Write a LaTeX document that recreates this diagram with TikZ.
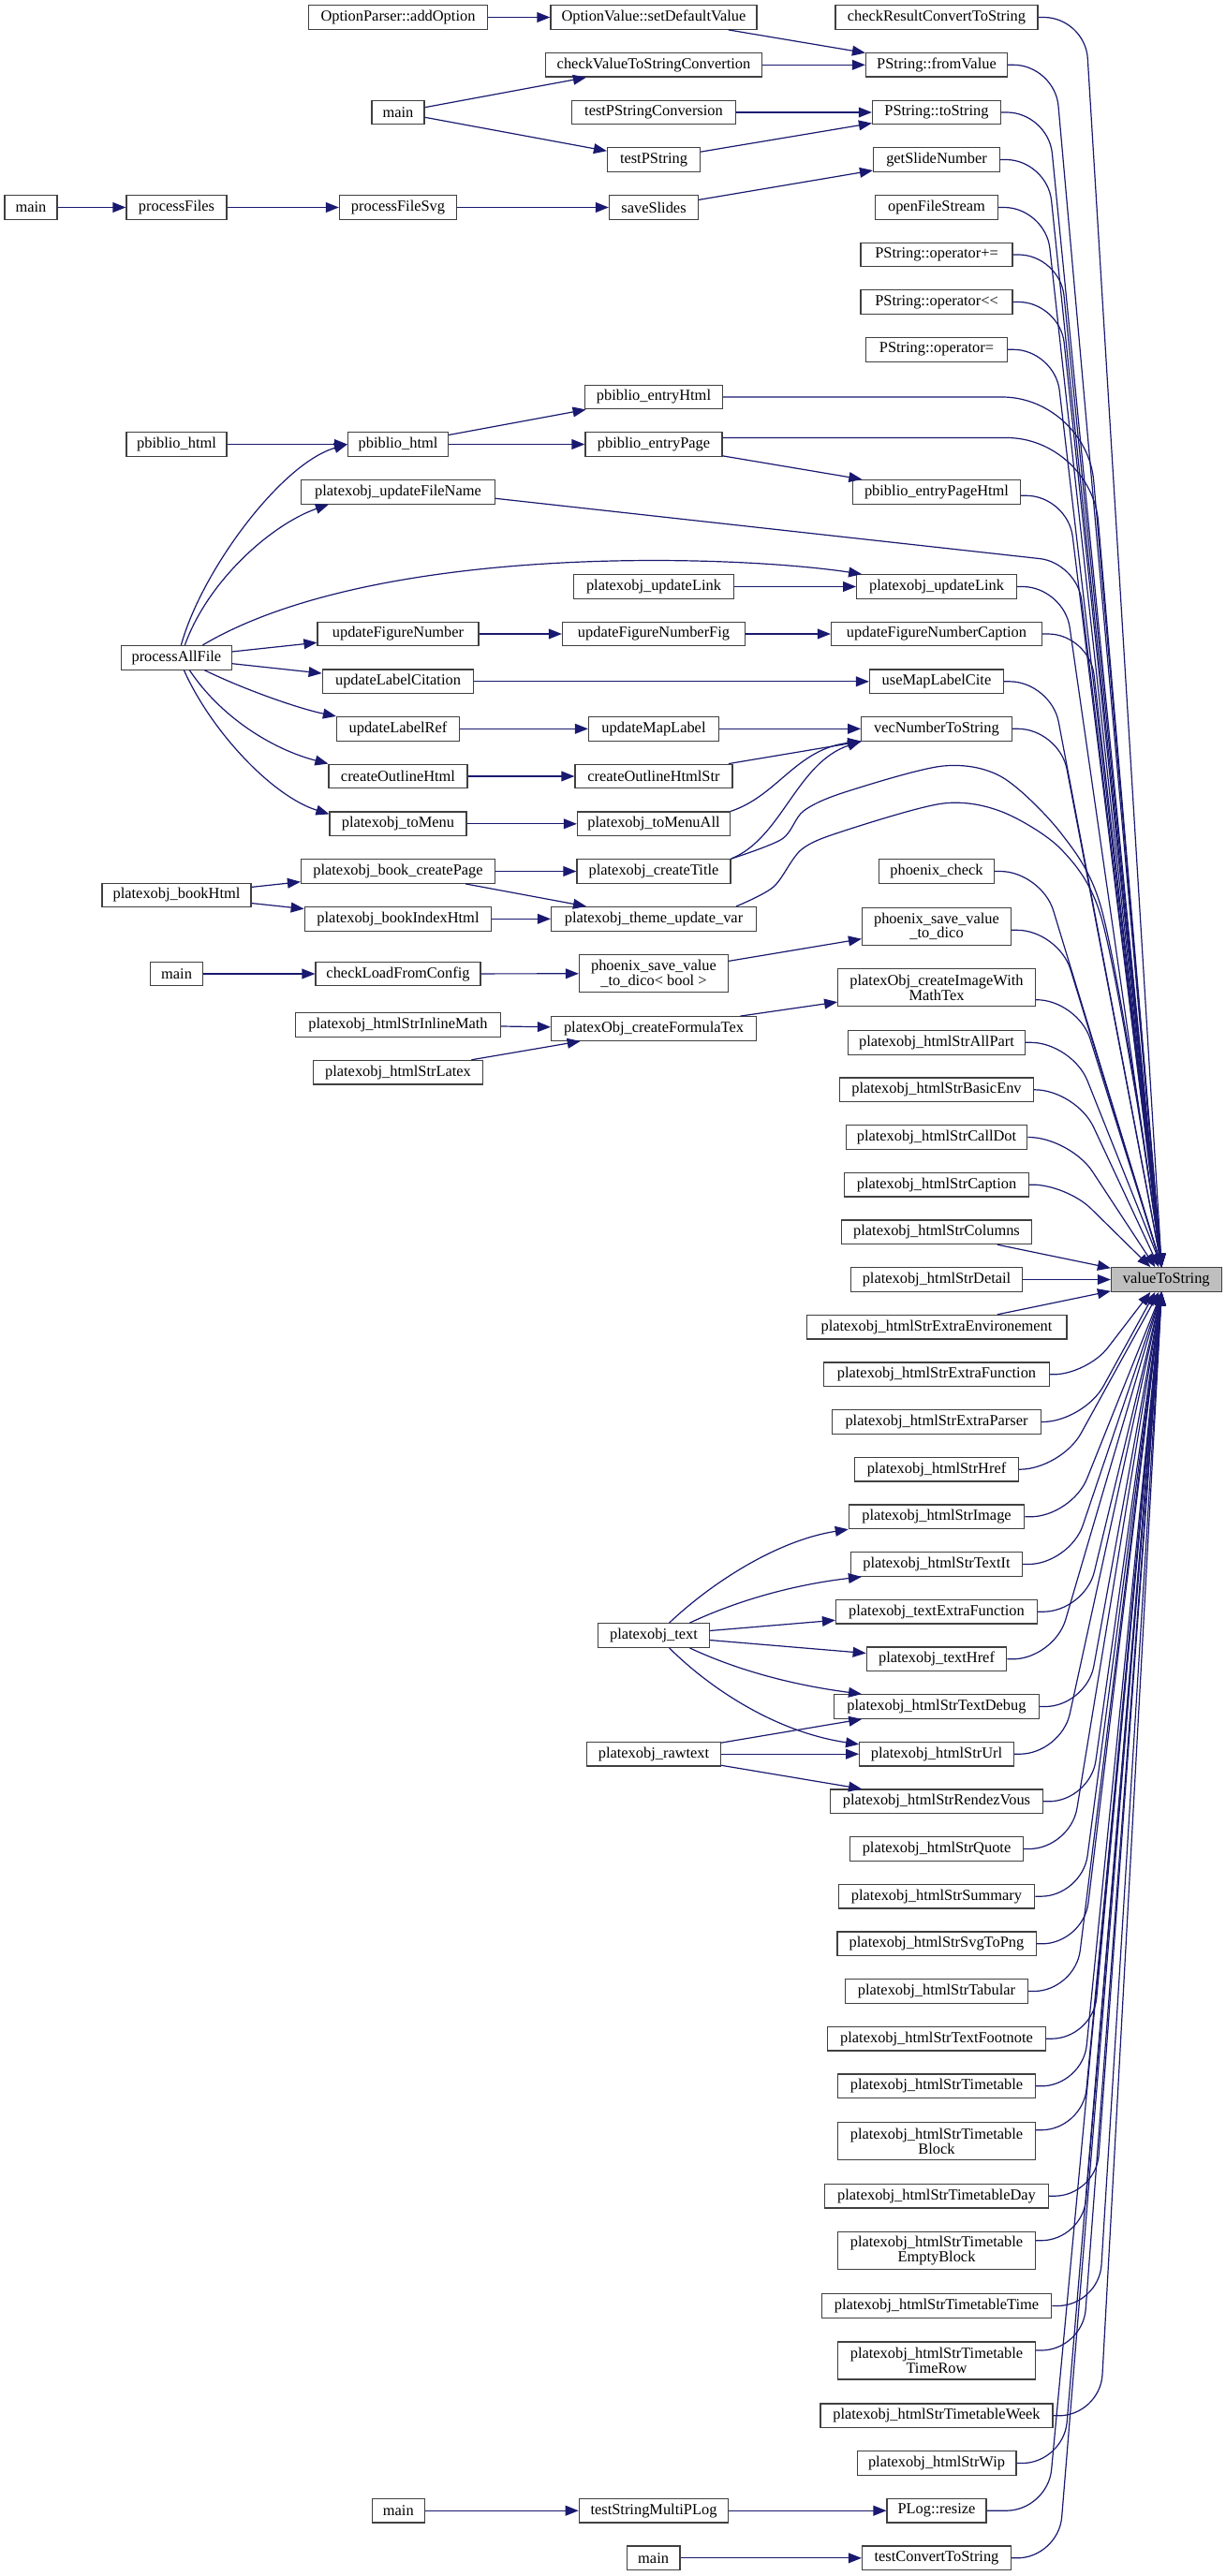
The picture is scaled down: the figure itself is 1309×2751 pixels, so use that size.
\documentclass[tikz,border=0pt]{standalone}
\usepackage{fontspec}
\setmainfont{Liberation Serif}
\usetikzlibrary{arrows.meta,calc}
\definecolor{edgec}{HTML}{191970}
\definecolor{nodeb}{HTML}{404040}
\definecolor{vfill}{HTML}{BFBFBF}
\newcommand\fnfont{\fontsize{8.2pt}{7.7pt}\selectfont}
\tikzset{
  fn/.style={draw=nodeb, fill=white, line width=0.6pt, rectangle, inner xsep=0pt, inner ysep=0pt, minimum height=12.8pt, font=\fnfont},
  fnii/.style={fn, minimum height=20pt, align=center},
  bw/.style={minimum width=#1*0.5pt},
  e/.style={draw=edgec, line width=0.6pt, -{Triangle[length=7pt,width=5.4pt]}},
  fan/.style={e, rounded corners=22pt},
}
\begin{document}
\begin{tikzpicture}[x=0.5pt,y=-0.5pt]
\fill[white] (0,0) rectangle (1309,2751);
% ---------- column A
\node[fn,bw=56] (mainA) at (33,221.5) {main};
% ---------- column B
\node[fn,bw=107] (pFiles) at (188.5,221.5) {processFiles};
\node[fn,bw=107] (pbhL) at (188.5,474.5) {pbiblio\_html};
\node[fn,bw=117.4] (pAll) at (188.4,702.3) {processAllFile};
\node[fn,bw=159] (bookHtml) at (188.5,956) {platexobj\_bookHtml};
\node[fn,bw=56] (mainB) at (188.6,1040) {main};
% ---------- column C
\node[fn,bw=191] (addOpt) at (425,18.5) {OptionParser::addOption};
\node[fn,bw=56] (mainC) at (425,120) {main};
\node[fn,bw=125] (pSvg) at (425,221.5) {processFileSvg};
\node[fn,bw=107] (pbhM) at (425,474.5) {pbiblio\_html};
\node[fn,bw=207] (updFN) at (425,525.3) {platexobj\_updateFileName};
\node[fn,bw=172] (updFig) at (425,677) {updateFigureNumber};
\node[fn,bw=161.6] (updCit) at (425,727.8) {updateLabelCitation};
\node[fn,bw=131] (updRef) at (425,778.3) {updateLabelRef};
\node[fn,bw=148] (coHtml) at (425,829) {createOutlineHtml};
\node[fn,bw=146] (toMenu) at (425,879.8) {platexobj\_toMenu};
\node[fn,bw=207] (bookCP) at (425,930.5) {platexobj\_book\_createPage};
\node[fn,bw=199.5] (bookIdx) at (425,981.3) {platexobj\_bookIndexHtml};
\node[fn,bw=176] (chkLoad) at (425,1040) {checkLoadFromConfig};
\node[fn,bw=219] (inlMath) at (425,1094.3) {platexobj\_htmlStrInlineMath};
\node[fn,bw=181.4] (strLatex) at (425,1145.2) {platexobj\_htmlStrLatex};
\node[fn,bw=56] (mainC2) at (425.3,2681.2) {main};
% ---------- column D
\node[fn,bw=220] (setDef) at (698,18.5) {OptionValue::setDefaultValue};
\node[fn,bw=231] (chkVal) at (698,69.3) {checkValueToStringConvertion};
\node[fn,bw=175] (tPSC) at (698,120) {testPStringConversion};
\node[fn,bw=99] (tPS) at (698,170.5) {testPString};
\node[fn,bw=95] (saveSl) at (698,221.5) {saveSlides};
\node[fn,bw=147] (entHtml) at (698,424) {pbiblio\_entryHtml};
\node[fn,bw=146] (entPage) at (698,474.5) {pbiblio\_entryPage};
\node[fn,bw=171] (updLinkL) at (698,626.5) {platexobj\_updateLink};
\node[fn,bw=195] (updFigFig) at (698,677) {updateFigureNumberFig};
\node[fn,bw=139] (updMap) at (698,778.3) {updateMapLabel};
\node[fn,bw=168] (coStr) at (698,829) {createOutlineHtmlStr};
\node[fn,bw=163] (toMenuAll) at (698,879.8) {platexobj\_toMenuAll};
\node[fn,bw=164] (crTitle) at (698,930.5) {platexobj\_createTitle};
\node[fn,bw=219] (theme) at (698,981.3) {platexobj\_theme\_update\_var};
\node[fnii,bw=159] (psvBool) at (698,1039.7) {phoenix\_save\_value\\\_to\_dico< bool >};
\node[fn,bw=219] (crFormula) at (698,1098.5) {platexObj\_createFormulaTex};
\node[fn,bw=118.6] (ptext) at (698,1746.5) {platexobj\_text};
\node[fn,bw=142.3] (praw) at (698,1873.2) {platexobj\_rawtext};
\node[fn,bw=159.4] (tSMP) at (698,2681.2) {testStringMultiPLog};
\node[fn,bw=56.7] (mainD) at (697.6,2731.8) {main};
% ---------- column E
\node[fn,bw=216] (chkRes) at (1000,18.5) {checkResultConvertToString};
\node[fn,bw=151] (fromVal) at (1000,69.3) {PString::fromValue};
\node[fn,bw=137] (toStr) at (1000,120) {PString::toString};
\node[fn,bw=135] (getSlide) at (1000,170.5) {getSlideNumber};
\node[fn,bw=131] (openFS) at (1000,221.5) {openFileStream};
\node[fn,bw=162] (opPlus) at (1000,272) {PString::operator+=};
\node[fn,bw=162] (opShl) at (1000,322.5) {PString::operator<{}<};
\node[fn,bw=151] (opEq) at (1000,373.3) {PString::operator=};
\node[fn,bw=178.6] (entPageHtml) at (1000,525.3) {pbiblio\_entryPageHtml};
\node[fn,bw=170.6] (updLinkR) at (1000,626.5) {platexobj\_updateLink};
\node[fn,bw=225] (updFigCap) at (1000,677) {updateFigureNumberCaption};
\node[fn,bw=143] (useMap) at (1000,727.8) {useMapLabelCite};
\node[fn,bw=160.6] (vecNum) at (1000,778.3) {vecNumberToString};
\node[fn,bw=122.7] (phCheck) at (1000,930.5) {phoenix\_check};
\node[fnii,bw=159] (psv) at (1000,989.3) {phoenix\_save\_value\\\_to\_dico};
\node[fnii,bw=210.6] (crImg) at (1000,1054.7) {platexObj\_createImageWith\\MathTex};
\node[fn,bw=188.3] (allPart) at (1000,1113.3) {platexobj\_htmlStrAllPart};
\node[fn,bw=206.8] (basicEnv) at (1000,1163.8) {platexobj\_htmlStrBasicEnv};
\node[fn,bw=193.6] (callDot) at (1000,1214.5) {platexobj\_htmlStrCallDot};
\node[fn,bw=196.5] (caption) at (1000,1265.2) {platexobj\_htmlStrCaption};
\node[fn,bw=202.3] (columns) at (1000,1315.8) {platexobj\_htmlStrColumns};
\node[fn,bw=182.5] (detail) at (1000,1366.5) {platexobj\_htmlStrDetail};
\node[fn,bw=277.8] (extraEnv) at (1000,1417.2) {platexobj\_htmlStrExtraEnvironement};
\node[fn,bw=240.6] (extraFn) at (1000,1467.8) {platexobj\_htmlStrExtraFunction};
\node[fn,bw=223] (extraPar) at (1000,1518.5) {platexobj\_htmlStrExtraParser};
\node[fn,bw=174.7] (href) at (1000,1569.2) {platexobj\_htmlStrHref};
\node[fn,bw=187.3] (image) at (1000,1619.8) {platexobj\_htmlStrImage};
\node[fn,bw=183] (textIt) at (1000,1670.5) {platexobj\_htmlStrTextIt};
\node[fn,bw=215] (textExtra) at (1000,1721.2) {platexobj\_textExtraFunction};
\node[fn,bw=149.6] (textHref) at (1000,1771.8) {platexobj\_textHref};
\node[fn,bw=218.8] (textDebug) at (1000,1822.5) {platexobj\_htmlStrTextDebug};
\node[fn,bw=164.6] (url) at (1000,1873.2) {platexobj\_htmlStrUrl};
\node[fn,bw=226.5] (rdv) at (1000,1923.8) {platexobj\_htmlStrRendezVous};
\node[fn,bw=184.4] (quote) at (1000,1974.5) {platexobj\_htmlStrQuote};
\node[fn,bw=209.6] (summary) at (1000,2025.2) {platexobj\_htmlStrSummary};
\node[fn,bw=212.2] (svg) at (1000,2075.8) {platexobj\_htmlStrSvgToPng};
\node[fn,bw=194.6] (tabular) at (1000,2126.5) {platexobj\_htmlStrTabular};
\node[fn,bw=232.4] (footnote) at (1000,2177.2) {platexobj\_htmlStrTextFootnote};
\node[fn,bw=210.6] (ttable) at (1000,2227.8) {platexobj\_htmlStrTimetable};
\node[fnii,bw=210.6] (ttBlock) at (1000,2286.7) {platexobj\_htmlStrTimetable\\Block};
\node[fn,bw=238.7] (ttDay) at (1000,2345.2) {platexobj\_htmlStrTimetableDay};
\node[fnii,bw=210.6] (ttEmpty) at (1000,2403.7) {platexobj\_htmlStrTimetable\\EmptyBlock};
\node[fn,bw=245.4] (ttTime) at (1000,2462.5) {platexobj\_htmlStrTimetableTime};
\node[fnii,bw=210.6] (ttRow) at (1000,2521) {platexobj\_htmlStrTimetable\\TimeRow};
\node[fn,bw=248] (ttWeek) at (1000,2579.8) {platexobj\_htmlStrTimetableWeek};
\node[fn,bw=169.8] (wip) at (1000,2630.5) {platexobj\_htmlStrWip};
\node[fn,bw=105.9] (resize) at (1000,2681.2) {PLog::resize};
\node[fn,bw=159] (tCTS) at (1000,2731.8) {testConvertToString};
% ---------- column F
\node[fn,bw=117.7,fill=vfill] (v) at (1245.3,1366.5) {valueToString};

% ---------- straight edges
\draw[e] (addOpt) -- (setDef);
\draw[e] (setDef) -- (fromVal);
\draw[e] (chkVal) -- (fromVal);
\draw[e] (mainC) -- (chkVal);
\draw[e] (mainC) -- (tPS);
\draw[e] (tPSC) -- (toStr);
\draw[e] (tPS) -- (toStr);
\draw[e] (mainA) -- (pFiles);
\draw[e] (pFiles) -- (pSvg);
\draw[e] (pSvg) -- (saveSl);
\draw[e] (saveSl) -- (getSlide);
\draw[e] (pbhL) -- (pbhM);
\draw[e] (pbhM) -- (entHtml);
\draw[e] (pbhM) -- (entPage);
\draw[e] (entPage) -- (entPageHtml);
\draw[e] (updLinkL) -- (updLinkR);
\draw[e] (pAll) -- (updFig);
\draw[e] (pAll) -- (updCit);
\draw[e] (updFig) -- (updFigFig);
\draw[e] (updFigFig) -- (updFigCap);
\draw[e] (updCit) -- (useMap);
\draw[e] (updRef) -- (updMap);
\draw[e] (updMap) -- (vecNum);
\draw[e] (coHtml) -- (coStr);
\draw[e] (coStr) -- (vecNum);
\draw[e] (toMenu) -- (toMenuAll);
\draw[e] (bookCP) -- (crTitle);
\draw[e] (bookCP) -- (theme);
\draw[e] (bookHtml) -- (bookCP);
\draw[e] (bookHtml) -- (bookIdx);
\draw[e] (bookIdx) -- (theme);
\draw[e] (mainB) -- (chkLoad);
\draw[e] (chkLoad) -- (psvBool);
\draw[e] (psvBool) -- (psv);
\draw[e] (inlMath) -- (crFormula);
\draw[e] (strLatex) -- (crFormula);
\draw[e] (crFormula) -- (crImg);
\draw[e] (ptext) -- (textExtra);
\draw[e] (ptext) -- (textHref);
\draw[e] (praw) -- (textDebug);
\draw[e] (praw) -- (url);
\draw[e] (praw) -- (rdv);
\draw[e] (mainC2) -- (tSMP);
\draw[e] (tSMP) -- (resize);
\draw[e] (mainD) -- (tCTS);
\draw[e] (columns) -- (v);
\draw[e] (detail) -- (v);
\draw[e] (extraEnv) -- (v);

% ---------- curved edges, left part
\draw[e] ([xshift=2.5pt]pAll.north) .. controls (215,610) and (300,495) .. (pbhM.west);
\draw[e] ([xshift=4.5pt]pAll.north) .. controls (222,620) and (290,560) .. ([xshift=15pt]updFN.south west);
\draw[e] ([xshift=14pt]pAll.north) .. controls (400,580) and (780,592) .. ([xshift=3pt]updLinkR.north west);
\draw[e] ([xshift=15pt]pAll.south) .. controls (262,737) and (320,757) .. (updRef.north west);
\draw[e] ([xshift=7pt]pAll.south) .. controls (235,765) and (290,800) .. (coHtml.north west);
\draw[e] ([xshift=4pt]pAll.south) .. controls (225,780) and (290,850) .. ([yshift=-1.5pt]toMenu.north west);
\draw[e] (toMenuAll.north east) .. controls (830,850) and (850,800) .. (vecNum.south west);
\draw[e] (crTitle.north east) .. controls (835,895) and (850,815) .. (vecNum.south west);
\draw[e] ([xshift=8.3pt]ptext.north) .. controls (760,1690) and (830,1645) .. (image.south west);
\draw[e] ([xshift=19.2pt]ptext.north) .. controls (790,1708) and (850,1692) .. ([xshift=6pt]textIt.south west);
\draw[e] ([xshift=19.2pt]ptext.south) .. controls (790,1785) and (850,1800) .. ([xshift=15pt]textDebug.north west);
\draw[e] ([xshift=8.3pt]ptext.south) .. controls (760,1805) and (830,1850) .. ([yshift=-1.5pt]url.north west);

% ---------- fan-in to valueToString, from above
\foreach \n in {chkRes,fromVal,toStr,getSlide,openFS,opPlus,opShl,opEq,updLinkR,updFigCap,useMap,vecNum,phCheck,allPart}
  \draw[fan] (\n.east) -- ++(50,0) -- ([xshift=-2.5pt]v.north);
\draw[fan] ($(entPageHtml.east)+(0,4)$) -- ++(50,0) -- ([xshift=-2.5pt]v.north);
\draw[fan] ($(psv.east)+(0,4)$) -- ++(50,0) -- ([xshift=-2.5pt]v.north);
\draw[fan] ($(crImg.east)+(0,13)$) -- ++(45,0) -- ([xshift=-2.5pt]v.north);
\draw[fan] (basicEnv.east) -- ++(45,0) -- ([xshift=-4pt]v.north);
\draw[fan] (callDot.east) -- ++(45,0) -- ([xshift=-6pt]v.north);
\draw[fan, rounded corners=18pt] (caption.east) -- ++(40,0) -- ([xshift=-8.5pt]v.north);
\draw[e, rounded corners=45pt] (entHtml.east) -- (1160,424) -- ([xshift=-2.5pt]v.north);
\draw[e, rounded corners=45pt] ($(entPage.east)+(0,-7)$) -- (1165,467.5) -- ([xshift=-2.5pt]v.north);
\draw[e, rounded corners=20pt] ($(updFN.east)+(0,7)$) -- (1150,601) -- ([xshift=-2.5pt]v.north);
\draw[e] plot[smooth, tension=0.5] coordinates {(crTitle.north east) (835,896) (858,866) (902,846) (1007,818) (1070,830) (1133,890) (1175,967) (1212,1160) ([xshift=-2.5pt]v.north)};
\draw[e] plot[smooth, tension=0.5] coordinates {([xshift=-11pt]theme.north east) (826,947) (856,907) (902,887) (1007,858) (1070,867) (1133,907) (1175,977) (1212,1165) ([xshift=-2.5pt]v.north)};

% ---------- fan-in to valueToString, from below
\foreach \n in {image,textIt,textExtra,textHref,textDebug,url,rdv,quote,summary,svg,tabular,footnote,ttable,ttDay,ttTime,ttWeek,wip,tCTS}
  \draw[fan] (\n.east) -- ++(50,0) -- ([xshift=-2.5pt]v.south);
\draw[fan] ($(ttBlock.east)+(0,-12)$) -- ++(50,0) -- ([xshift=-2.5pt]v.south);
\draw[fan] ($(ttEmpty.east)+(0,-11)$) -- ++(50,0) -- ([xshift=-2.5pt]v.south);
\draw[fan] ($(ttRow.east)+(0,-11)$) -- ++(50,0) -- ([xshift=-2.5pt]v.south);
\draw[fan] (resize.east) -- ++(65,0) -- ([xshift=-2.5pt]v.south);
\draw[fan] (href.east) -- ++(45,0) -- ([xshift=-4pt]v.south);
\draw[fan] (extraPar.east) -- ++(45,0) -- ([xshift=-6pt]v.south);
\draw[fan, rounded corners=18pt] (extraFn.east) -- ++(40,0) -- ([xshift=-8.5pt]v.south);
\end{tikzpicture}
\end{document}
